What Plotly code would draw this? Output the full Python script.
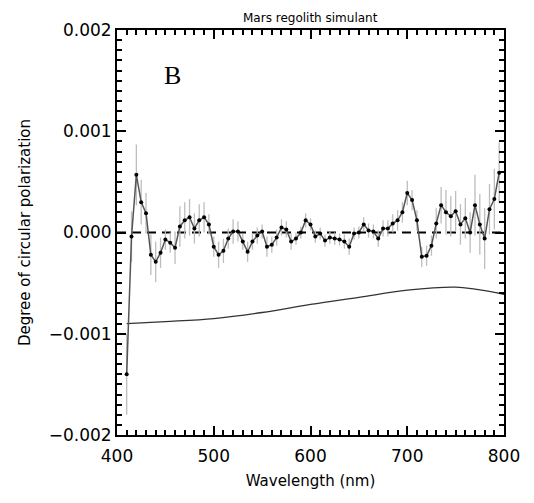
import plotly.graph_objects as go

wavelength = [410, 415, 420, 425, 430, 435, 440, 445, 450, 455, 460, 465, 470, 475, 480,
              485, 490, 495, 500, 505, 510, 515, 520, 525, 530, 535, 540, 545, 550, 555,
              560, 565, 570, 575, 580, 585, 590, 595, 600, 605, 610, 615, 620, 625, 630,
              635, 640, 645, 650, 655, 660, 665, 670, 675, 680, 685, 690, 695, 700, 705,
              710, 715, 720, 725, 730, 735, 740, 745, 750, 755, 760, 765, 770, 775, 780,
              785, 790, 795]
dcp = [-0.00140, -0.00004, 0.00057, 0.00030, 0.00019, -0.00022, -0.00029, -0.00020,
       -0.00007, -0.00010, -0.00015, 0.00006, 0.00012, 0.00015, 0.00004, 0.00012,
       0.00015, 0.00008, -0.00014, -0.00022, -0.00018, -0.00006, 0.00001, 0.00001,
       -0.00009, -0.00019, -0.00009, -0.00003, 0.00001, -0.00014, -0.00012, -0.00005,
       0.00005, 0.00003, -0.00009, -0.00006, 0.00000, 0.00012, 0.00008, -0.00004,
       -0.00001, -0.00008, -0.00005, -0.00006, -0.00007, -0.00009, -0.00014, -0.00001,
       0.00000, 0.00008, 0.00002, 0.00001, -0.00006, 0.00004, 0.00004, 0.00009,
       0.00012, 0.00020, 0.00039, 0.00032, 0.00012, -0.00024, -0.00023, -0.00013,
       0.00009, 0.00027, 0.00020, 0.00016, 0.00021, 0.00008, 0.00014, 0.00000,
       0.00027, 0.00008, -0.00006, 0.00023, 0.00033, 0.00059]
dcp_err = [0.00040, 0.00025, 0.00030, 0.00022, 0.00020, 0.00020, 0.00020, 0.00015,
           0.00010, 0.00010, 0.00016, 0.00020, 0.00018, 0.00018, 0.00015, 0.00016,
           0.00015, 0.00010, 0.00010, 0.00013, 0.00012, 0.00010, 0.00012, 0.00010,
           0.00008, 0.00010, 0.00008, 0.00008, 0.00007, 0.00010, 0.00008, 0.00008,
           0.00008, 0.00008, 0.00008, 0.00006, 0.00006, 0.00007, 0.00006, 0.00006,
           0.00006, 0.00006, 0.00006, 0.00006, 0.00006, 0.00007, 0.00008, 0.00006,
           0.00006, 0.00007, 0.00007, 0.00007, 0.00008, 0.00008, 0.00008, 0.00009,
           0.00010, 0.00010, 0.00012, 0.00010, 0.00010, 0.00010, 0.00010, 0.00010,
           0.00015, 0.00018, 0.00022, 0.00020, 0.00020, 0.00020, 0.00020, 0.00020,
           0.00030, 0.00030, 0.00030, 0.00025, 0.00030, 0.00030]

curve_wl = [410, 450, 500, 550, 600, 650, 700, 750, 770, 800]
curve_val = [-0.00090, -0.00088, -0.00085, -0.00079, -0.00071, -0.00064, -0.00057,
             -0.00054, -0.00056, -0.00061]

zero_wl = [400, 800]
zero_val = [0, 0]

font_sans = "DejaVu Sans"

fig = go.Figure()
fig.add_trace(go.Scatter(x=zero_wl, y=zero_val, mode="lines",
                         line=dict(color="black", width=1.8, dash="9px,6px"),
                         hoverinfo="skip", showlegend=False))
fig.add_trace(go.Scatter(x=curve_wl, y=curve_val, mode="lines",
                         line=dict(color="#333333", width=1.3, shape="spline"),
                         showlegend=False))
fig.add_trace(go.Scatter(x=wavelength, y=dcp, mode="lines+markers",
                         line=dict(color="#555555", width=1.5),
                         marker=dict(color="black", size=4),
                         error_y=dict(type="data", array=dcp_err, visible=True,
                                      color="#bdbdbd", thickness=1.3, width=0),
                         showlegend=False))

axis_common = dict(showline=True, linecolor="black", linewidth=2, mirror="ticks",
                   ticks="inside", ticklen=9, tickwidth=1.5, tickcolor="black",
                   showgrid=False, zeroline=False,
                   tickfont=dict(family=font_sans, size=17, color="black"))

fig.update_layout(
    width=526, height=495,
    margin=dict(l=109, r=30, t=22, b=68),
    paper_bgcolor="white", plot_bgcolor="white",
    xaxis=dict(range=[400, 800], tickvals=[400, 500, 600, 700, 800],
               ticklabelstandoff=5,
               minor=dict(dtick=10, ticklen=5, ticks="inside", tickcolor="black", tickwidth=1.5),
               title=dict(text="Wavelength (nm)", standoff=10,
                          font=dict(family=font_sans, size=15, color="black")),
               **axis_common),
    yaxis=dict(range=[-0.002, 0.002], tickvals=[-0.002, -0.001, 0, 0.001, 0.002],
               tickformat=".3f",
               minor=dict(dtick=0.0001, ticklen=5, ticks="inside", tickcolor="black", tickwidth=1.5),
               title=dict(text="Degree of circular polarization", standoff=14,
                          font=dict(family=font_sans, size=15, color="black")),
               **axis_common),
    annotations=[
        dict(text="Mars regolith simulant", xref="paper", yref="paper", x=0.5, y=1.0,
             xanchor="center", yanchor="bottom", yshift=3, showarrow=False,
             font=dict(family=font_sans, size=12, color="black")),
        dict(text="B", xref="x", yref="y", x=447, y=0.00155, xanchor="left",
             yanchor="middle", showarrow=False,
             font=dict(family="Liberation Serif", size=26, color="black"))],
)

fig.write_html("out.html")
